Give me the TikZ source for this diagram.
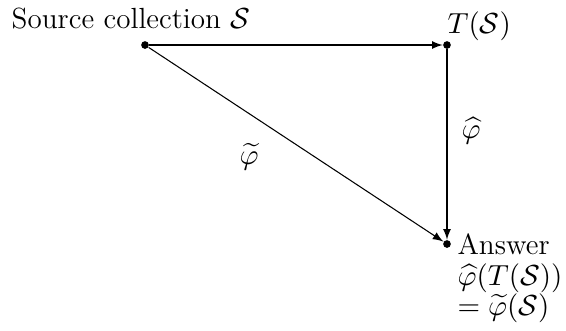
\documentclass[tikz,border=0pt]{standalone}
\usepackage{amsmath,amssymb}
\usetikzlibrary{arrows}
\begin{document}
\begin{tikzpicture}[x=0.3774pt,y=-0.3774pt,
  every node/.style={font=\fontsize{11}{11.2}\selectfont},
  dot/.style={circle,fill=black,inner sep=0pt,minimum size=2.9pt},
  arr/.style={-latex,line width=0.4pt},
  lab/.style={inner sep=0pt}]
\useasboundingbox (0,0) rectangle (566,330);
\node[dot] (s) at (145,45) {};
\node[dot] (t) at (447,45) {};
\node[dot] (a) at (447,244) {};
\node[lab,anchor=base] (slab) at (131,28) {Source collection $\mathcal{S}$};
\node[lab,anchor=base west] (tlab) at (447,33) {$T(\mathcal{S})$};
\node[lab,anchor=north west,align=left,font=\fontsize{11}{11.6}\selectfont] (alab) at (457,233) {Answer\\ $\widehat{\varphi}(T(\mathcal{S}))$\\ $=\widetilde{\varphi}(\mathcal{S})$};
\draw[arr] (s) -- (t);
\draw[arr] (t) -- (a);
\draw[arr] (s) -- (a);
\node[lab] (phihat) at (471,131) {$\widehat{\varphi}$};
\node[lab] (phitilde) at (249,157) {$\widetilde{\varphi}$};
\end{tikzpicture}
\end{document}
